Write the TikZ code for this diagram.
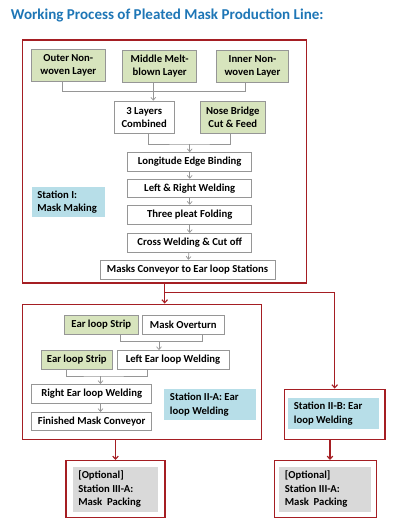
\documentclass[tikz,border=0pt]{standalone}
\usepackage{fontspec}
\setmainfont{Carlito}
\usetikzlibrary{arrows.meta,calc}
\definecolor{titleblue}{RGB}{30,118,182}
\definecolor{framered}{RGB}{165,30,35}
\definecolor{leafgreen}{RGB}{215,228,189}
\definecolor{labelblue}{RGB}{183,222,232}
\definecolor{optgray}{RGB}{217,217,217}
\definecolor{boxgray}{RGB}{150,150,150}
\tikzset{
  stepbox/.style = {draw=boxgray, line width=0.5pt, fill=white, inner sep=0pt,
    align=center, font=\bfseries\fontsize{7.6}{9.3}\selectfont},
  feedbox/.style = {stepbox, fill=leafgreen},
  stationlabel/.style = {fill=labelblue, inner xsep=0.14cm, inner ysep=0pt, align=left,
    font=\bfseries\fontsize{7.6}{9.6}\selectfont, execute at begin node={\spaceskip=0pt\xspaceskip=0pt\relax}},
  optlabel/.style = {stationlabel, fill=optgray},
  frame/.style = {draw=framered, line width=1pt, inner sep=0pt},
  feedline/.style = {draw=boxgray, line width=0.5pt},
  feedarrow/.style = {feedline, -{Straight Barb[length=2pt,width=3.5pt]}},
  redarrow/.style = {draw=framered, line width=0.8pt, -{Straight Barb[length=2.2pt,width=4pt]}}
}
\begin{document}
\begin{tikzpicture}[x=0.025cm, y=-0.025cm]
	\useasboundingbox (0,0) rectangle (400,531);
	\node[anchor=west, text=titleblue, font=\bfseries\fontsize{10.7}{12}\selectfont] (title) at (6,15)
		{Working Process of Pleated Mask Production Line:};

	% Station I
	\node[frame, minimum width=7.1cm, minimum height=6.075cm] (st1) at (164.7,161.5) {};
	\node[feedbox, minimum width=1.83cm, minimum height=0.8cm] (outer) at (68.3,65.5) {Outer Non-\\woven Layer};
	\node[feedbox, minimum width=1.85cm, minimum height=0.8cm] (middle) at (159.7,66.3) {Middle Melt-\\blown Layer};
	\node[feedbox, minimum width=1.79cm, minimum height=0.8cm] (inner) at (252.5,66.3) {Inner Non-\\woven Layer};
	\node[stepbox, minimum width=1.49cm, minimum height=0.81cm] (comb) at (144.2,117.2) {3 Layers\\Combined};
	\node[feedbox, minimum width=1.64cm, minimum height=0.81cm] (nose) at (232.8,117.5) {Nose Bridge\\Cut \& Feed};
	\node[stepbox, minimum width=3.1cm, minimum height=0.46cm] (edge) at (189.7,161.7) {Longitude Edge Binding};
	\node[stepbox, minimum width=3.1cm, minimum height=0.46cm] (lrweld) at (189.7,188.3) {Left \& Right Welding};
	\node[stepbox, minimum width=3.1cm, minimum height=0.47cm] (pleat) at (189.7,214.5) {Three pleat Folding};
	\node[stepbox, minimum width=3.1cm, minimum height=0.47cm] (cross) at (189.7,242.7) {Cross Welding \& Cut off};
	\node[stepbox, minimum width=4.375cm, minimum height=0.48cm] (conv) at (187.5,269.7) {Masks Conveyor to Ear loop Stations};
	\node[stationlabel, text width=1.55cm, minimum height=0.77cm] (st1lbl) at (68.3,202) {Station I:\\Mask Making};

	\coordinate (outerfoot) at ($(outer.south)+(-5.6,0)$);
	\coordinate (middlefoot) at ($(middle.south)+(-6.4,0)$);
	\coordinate (innerfoot) at ($(inner.south)+(-7.5,0)$);
	\coordinate (combfoot) at ($(comb.south)+(4.1,0)$);
	\coordinate (nosefoot) at ($(nose.south)+(-2.8,0)$);
	\coordinate (j1) at (159.7,91.7);
	\coordinate (j2) at (189.7,144);
	\draw[feedline] (outerfoot) |- (j1) -| (innerfoot);
	\draw[feedarrow] (middlefoot) -- (middlefoot |- comb.north);
	\draw[feedline] (combfoot) |- (j2) -| (nosefoot);
	\draw[feedarrow] (j2) -- (edge.north);
	\draw[feedarrow] (edge) -- (lrweld);
	\draw[feedarrow] (lrweld) -- (pleat);
	\draw[feedarrow] (pleat) -- (cross);
	\draw[feedarrow] (cross) -- (conv);

	% Station II-A
	\node[frame, minimum width=5.975cm, minimum height=3.375cm] (st2a) at (142.2,371.8) {};
	\node[feedbox, minimum width=1.87cm, minimum height=0.46cm] (strip1) at (101.3,324.8) {Ear loop Strip};
	\node[stepbox, minimum width=2.03cm, minimum height=0.46cm] (overturn) at (183.3,324.8) {Mask Overturn};
	\node[feedbox, minimum width=1.79cm, minimum height=0.465cm] (strip2) at (76.8,359.7) {Ear loop Strip};
	\node[stepbox, minimum width=2.8cm, minimum height=0.465cm] (leftweld) at (173,359.7) {Left Ear loop Welding};
	\node[stepbox, minimum width=3.0cm, minimum height=0.475cm] (rightweld) at (91.7,393.8) {Right Ear loop Welding};
	\node[stepbox, minimum width=3.0cm, minimum height=0.46cm] (finished) at (91.7,421.5) {Finished Mask Conveyor};
	\node[stationlabel, text width=2.01cm, minimum height=0.775cm] (st2albl) at (210.2,404.5) {Station II-A: Ear\\loop Welding};

	\coordinate (strip1foot) at ($(strip1.south)+(19.4,0)$);
	\coordinate (overturnfoot) at ($(overturn.south)+(19,0)$);
	\coordinate (strip2foot) at ($(strip2.south)+(-10,0)$);
	\coordinate (leftweldfoot) at ($(leftweld.south)+(-25.3,0)$);
	\coordinate (j3) at (159,341.5);
	\coordinate (j4) at (100.5,376);
	\draw[feedline] (strip1foot) |- (j3) -| (overturnfoot);
	\draw[feedarrow] (j3) -- (j3 |- leftweld.north);
	\draw[feedline] (strip2foot) |- (j4) -| (leftweldfoot);
	\draw[feedarrow] (j4) -- (j4 |- rightweld.north);
	\draw[feedarrow] (j4 |- rightweld.south) -- (j4 |- finished.north);

	% Station II-B
	\node[frame, minimum width=2.52cm, minimum height=1.25cm] (st2b) at (334.7,414.3) {};
	\node[stationlabel, text width=1.995cm, minimum height=0.77cm] (st2blbl) at (333.8,413.7) {Station II-B: Ear\\loop Welding};

	% optional packing
	\node[frame, minimum width=2.475cm, minimum height=1.425cm] (optA) at (115.5,489.2) {};
	\node[optlabel, text width=1.845cm, minimum height=1.125cm] (optAlbl) at (115.2,489.2) {[Optional]\\Station III-A:\\Mask~ Packing};
	\node[frame, minimum width=2.56cm, minimum height=1.425cm] (optB) at (325.5,489.2) {};
	\node[optlabel, text width=2.005cm, minimum height=1.125cm] (optBlbl) at (325,489.2) {[Optional]\\Station III-A:\\Mask~ Packing};

	% station links
	\coordinate (split) at (164.3,292.3);
	\coordinate (optBtop) at ($(optB.north)+(4.5,0)$);
	\draw[redarrow] (st1.south) -- (st1.south |- st2a.north);
	\draw[redarrow] (split) -| (st2b.north);
	\draw[redarrow] (optA.north |- st2a.south) -- (optA.north);
	\draw[redarrow] (optBtop |- st2b.south) -- (optBtop);
\end{tikzpicture}
\end{document}
